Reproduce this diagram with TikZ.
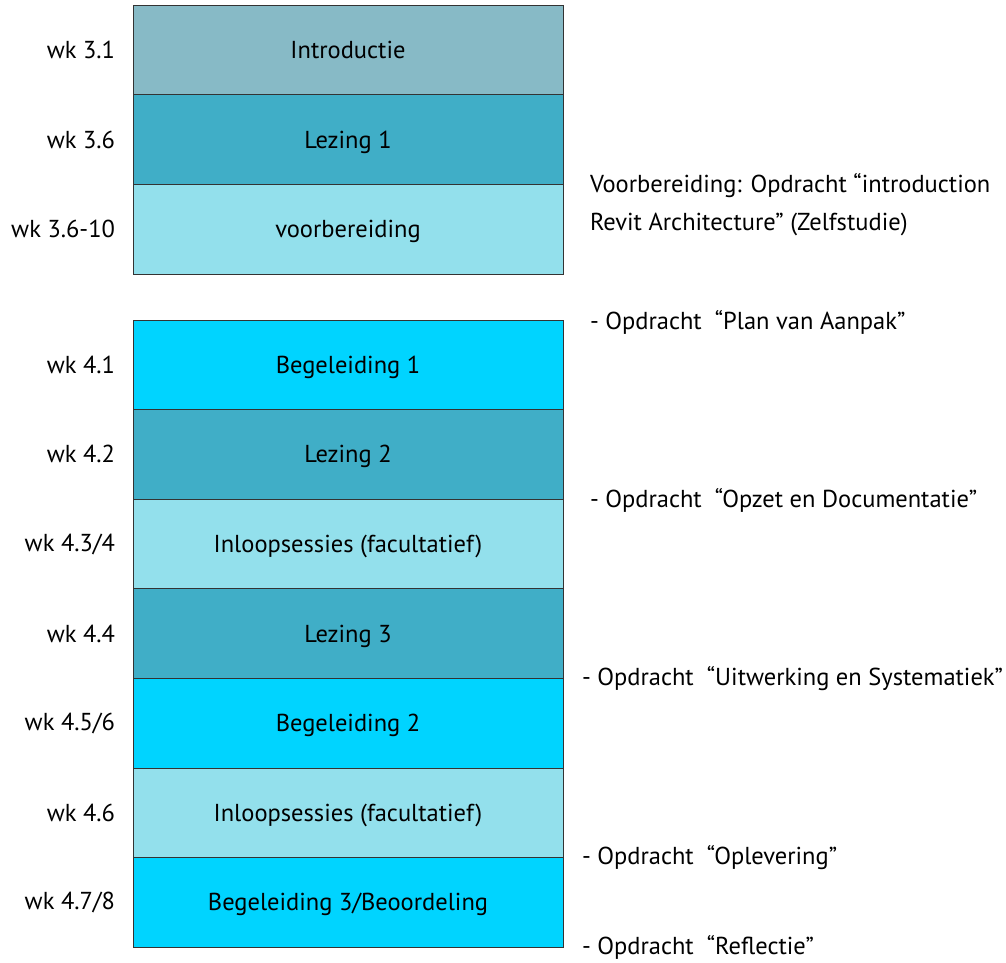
\documentclass[tikz,border=0pt]{standalone}
\usepackage{fontspec}
\setmainfont{PT Sans}
\usepackage{tikz}
\usetikzlibrary{positioning}
\definecolor{introblue}{HTML}{87BAC6}
\definecolor{lezingblue}{HTML}{40AEC7}
\definecolor{paleblue}{HTML}{93E0EC}
\definecolor{brightblue}{HTML}{00D4FF}

\begin{document}
\begin{tikzpicture}[
        x=1pt, y=-1pt,
        every node/.style={font=\fontsize{24.5}{29}\selectfont, inner sep=0pt, outer sep=0pt},
        row/.style={rectangle, draw=black!80, line width=0.9pt, minimum width=430pt, minimum height=89.6pt, text height=17pt, text depth=0pt, fill=#1},
        week/.style={anchor=east},
        task/.style={anchor=west}
    ]
    \useasboundingbox (0, 0) rectangle (1006, 962);
%
    % Blok 3
    \node[row=introblue] (intro) at (348, 50) {Introductie};
    \node[row=lezingblue, below=0pt of intro] (lez1) {Lezing 1};
    \node[row=paleblue, below=0pt of lez1] (voorb) {voorbereiding};
%
    % Blok 4
    \node[row=brightblue] (beg1) at (348, 364.8) {Begeleiding 1};
    \node[row=lezingblue, below=0pt of beg1] (lez2) {Lezing 2};
    \node[row=paleblue, below=0pt of lez2] (inloop1) {Inloopsessies (facultatief)};
    \node[row=lezingblue, below=0pt of inloop1] (lez3) {Lezing 3};
    \node[row=brightblue, below=0pt of lez3] (beg2) {Begeleiding 2};
    \node[row=paleblue, below=0pt of beg2] (inloop2) {Inloopsessies (facultatief)};
    \node[row=brightblue, below=0pt of inloop2] (beg3) {Begeleiding 3/Beoordeling};
%
    % Weken
    \node[week, left=18pt of intro] (wk31) {wk 3.1};
    \node[week, left=18pt of lez1] (wk36) {wk 3.6};
    \node[week, left=18pt of voorb] (wk3610) {wk 3.6-10};
    \node[week, left=18pt of beg1] (wk41) {wk 4.1};
    \node[week, left=18pt of lez2] (wk42) {wk 4.2};
    \node[week, left=18pt of inloop1] (wk434) {wk 4.3/4};
    \node[week, left=18pt of lez3] (wk44) {wk 4.4};
    \node[week, left=18pt of beg2] (wk456) {wk 4.5/6};
    \node[week, left=18pt of inloop2] (wk46) {wk 4.6};
    \node[week, left=18pt of beg3] (wk478) {wk 4.7/8};
%
    % Opdrachten
    \node[task] (zelf1) at (590, 186) {Voorbereiding: Opdracht “introduction};
    \node[task] (zelf2) at (590, 224) {Revit Architecture” (Zelfstudie)};
    \node[task] (pva) at (590, 322) {- Opdracht~ “Plan van Aanpak”};
    \node[task] (opzet) at (590, 500) {- Opdracht~ “Opzet en Documentatie”};
    \node[task] (uitw) at (582, 679) {- Opdracht~ “Uitwerking en Systematiek”};
    \node[task] (oplev) at (582, 858) {- Opdracht~ “Oplevering”};
    \node[task] (refl) at (582, 947) {- Opdracht~ “Reflectie”};
%
\end{tikzpicture}
\end{document}
